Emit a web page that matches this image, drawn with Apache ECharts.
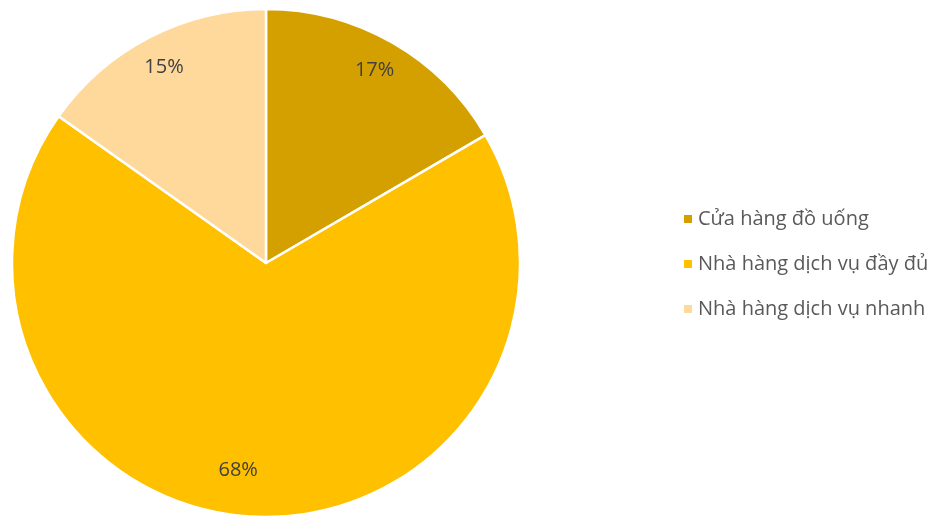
<!DOCTYPE html>
<html>
<head>
<meta charset="utf-8">
<script src="https://cdn.jsdelivr.net/npm/echarts@6/dist/echarts.min.js"></script>
<style>
  html, body { margin: 0; padding: 0; background: #fff; }
  #main { width: 940px; height: 516px; }
</style>
</head>
<body>
<div id="main"></div>
<script>
var names = ['Cửa hàng đồ uống', 'Nhà hàng dịch vụ đầy đủ', 'Nhà hàng dịch vụ nhanh'];
var values = [16.6, 68.2, 15.2];
var colors = ['#D4A000', '#FFC000', '#FFD99C'];

var myChart = echarts.init(document.getElementById('main'));

var data = [];
for (var i = 0; i < names.length; i++) {
  data.push({ name: names[i], value: values[i], itemStyle: { color: colors[i] } });
}

var option = {
  animation: false,
  legend: {
    orient: 'vertical',
    left: 677,
    top: 203,
    itemWidth: 10,
    itemHeight: 10,
    itemGap: 23,
    icon: 'rect',
    data: names,
    textStyle: {
      fontFamily: 'Open Sans',
      fontSize: 20,
      lineHeight: 22,
      color: '#595959',
      padding: [0, 0, 0, 0]
    }
  },
  series: [
    {
      // pie slices
      type: 'pie',
      center: [266, 263],
      radius: [0, 254],
      startAngle: 90,
      clockwise: true,
      data: data,
      itemStyle: { borderColor: '#fff', borderWidth: 2.5 },
      label: { show: false },
      labelLine: { show: false },
      emphasis: { disabled: true }
    },
    {
      // transparent ring just to place labels near the rim
      type: 'pie',
      center: [266, 263],
      radius: [188, 254],
      startAngle: 90,
      silent: true,
      data: data.map(function (d, i) {
        var item = { name: d.name, value: d.value, itemStyle: { color: 'rgba(0,0,0,0)' } };
        if (i === 1) item.label = { offset: [-18, -16] };
        if (i === 0) item.label = { offset: [-3, 2] };
        if (i === 2) item.label = { offset: [1, 3] };
        return item;
      }),
      label: {
        show: true,
        position: 'inside',
        fontFamily: 'Open Sans',
        fontSize: 20,
        color: '#404040',
        formatter: function (p) { return Math.round(p.value) + '%'; }
      },
      labelLine: { show: false },
      emphasis: { disabled: true }
    }
  ]
};

myChart.setOption(option);
</script>
</body>
</html>
